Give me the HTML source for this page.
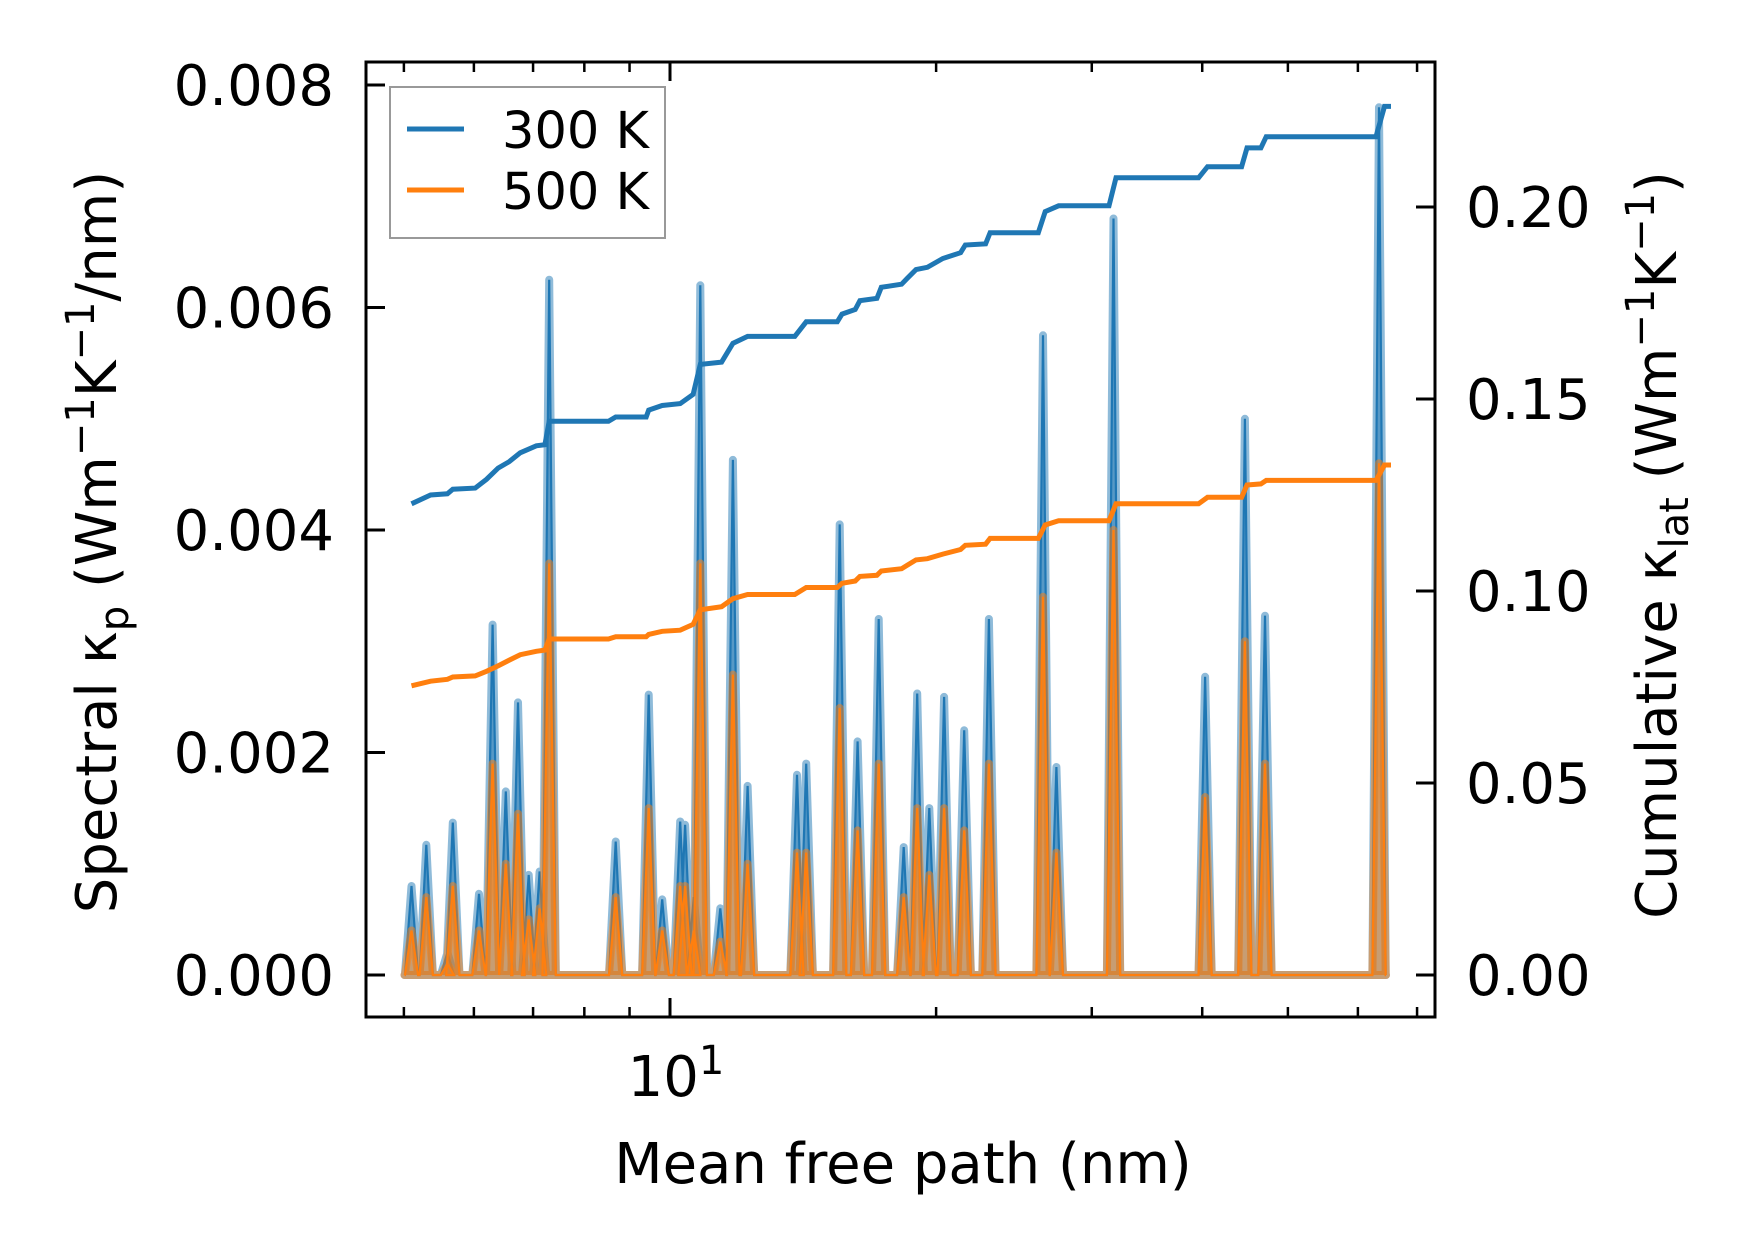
<!DOCTYPE html>
<html><head><meta charset="utf-8"><style>
html,body{margin:0;padding:0;background:#fff;}
svg{display:block;font-family:"DejaVu Sans","Liberation Sans",sans-serif;}
</style></head><body>
<svg id="chart" width="1753" height="1255" viewBox="0 0 1753 1255" xmlns="http://www.w3.org/2000/svg">
<rect width="1753" height="1255" fill="#fff"/>
<g id="plot"></g>
<g id="axes"></g>
</svg>
<script>
// spectral peaks (mean free path nm, value)
const peakMfp = [5.10,5.30,5.60,5.68,6.08,6.30,6.52,6.73,6.92,7.12,7.30,8.68,9.46,9.80,10.27,10.40,10.64,10.82,11.40,11.78,12.24,13.92,14.26,15.56,16.30,17.22,18.38,19.04,19.65,20.42,21.52,22.95,26.42,27.36,31.75,40.30,44.70,47.10,63.40];
const peak300 = [0.0008,0.00117,0.0002,0.00137,0.00073,0.00315,0.00165,0.00245,0.0009,0.00093,0.00625,0.0012,0.00252,0.00068,0.00138,0.00135,0.0007,0.0062,0.0006,0.00463,0.0017,0.0018,0.0019,0.00405,0.0021,0.0032,0.00115,0.00253,0.0015,0.0025,0.0022,0.0032,0.00575,0.00187,0.0068,0.00268,0.005,0.00323,0.0078];
const peak500 = [0.0004,0.0007,0.0001,0.0008,0.0004,0.0019,0.001,0.00145,0.0005,0.0006,0.0037,0.0007,0.0015,0.0004,0.0008,0.0008,0.0004,0.0037,0.0003,0.0027,0.001,0.0011,0.0011,0.0024,0.0013,0.0019,0.0007,0.0015,0.0009,0.0015,0.0013,0.0019,0.0034,0.0011,0.004,0.0016,0.003,0.0019,0.0046];
// cumulative
const cumMfp = [5.10,5.36,5.60,5.68,6.02,6.20,6.39,6.58,6.77,7.06,7.22,7.30,8.52,8.68,9.40,9.46,9.80,10.27,10.62,10.82,11.44,11.78,12.24,13.84,14.26,15.46,15.65,16.20,16.40,17.14,17.34,18.28,18.55,18.98,19.55,20.35,21.32,21.58,22.75,23.02,26.10,26.57,27.52,31.38,31.95,39.62,40.55,44.32,44.95,46.60,47.25,62.90,64.30,65.40];
const cum300 = [0.1227,0.1250,0.1253,0.1265,0.1268,0.1291,0.1320,0.1337,0.1360,0.1378,0.1381,0.1442,0.1442,0.1453,0.1453,0.1471,0.1483,0.1488,0.1512,0.1590,0.1596,0.1645,0.1663,0.1663,0.1701,0.1701,0.1721,0.1733,0.1756,0.1762,0.1791,0.1799,0.1814,0.1837,0.1843,0.1866,0.1881,0.1901,0.1904,0.1933,0.1933,0.1988,0.2003,0.2003,0.2076,0.2076,0.2105,0.2105,0.2154,0.2154,0.2183,0.2183,0.2262,0.2262];
const cum500 = [0.0753,0.0765,0.0770,0.0776,0.0779,0.0791,0.0805,0.0820,0.0834,0.0843,0.0846,0.0875,0.0875,0.0881,0.0881,0.0887,0.0895,0.0898,0.0913,0.0951,0.0959,0.0980,0.0991,0.0991,0.1009,0.1009,0.1020,0.1026,0.1038,0.1041,0.1052,0.1058,0.1067,0.1081,0.1084,0.1096,0.1108,0.1119,0.1122,0.1137,0.1137,0.1172,0.1183,0.1183,0.1227,0.1227,0.1244,0.1244,0.1276,0.1279,0.1288,0.1288,0.1328,0.1328];
const leftTicks = [0,0.002,0.004,0.006,0.008];
const leftTickLabels = ["0.000","0.002","0.004","0.006","0.008"];
const rightTicks = [0,0.05,0.10,0.15,0.20];
const rightTickLabels = ["0.00","0.05","0.10","0.15","0.20"];
const xMinor = [5,6,7,8,9,20,30,40,50,60,70];

const NS="http://www.w3.org/2000/svg";
const L=366,R=1435,T=62,B=1017;
function X(v){return 670+884*(Math.log10(v)-1);}
function YL(v){return 975-v/0.002*222.5;}
function YR(v){return 975-v/0.05*192;}
function mk(tag,attrs,parent){const e=document.createElementNS(NS,tag);for(const k in attrs)e.setAttribute(k,attrs[k]);parent.appendChild(e);return e;}
const plot=document.getElementById('plot'),axes=document.getElementById('axes');
const clip=mk('clipPath',{id:'clp'},mk('defs',{},plot));mk('rect',{x:L,y:T,width:R-L,height:B-T},clip);
plot.setAttribute('clip-path','url(#clp)');

function spectral(vals){
  const hw=0.0075;let pts=[[X(peakMfp[0])-7,YL(0)]];
  for(let i=0;i<peakMfp.length;i++){
    const lx=Math.log10(peakMfp[i]);
    pts.push([670+884*(lx-hw-1),YL(0)]);pts.push([X(peakMfp[i]),YL(vals[i])]);pts.push([670+884*(lx+hw-1),YL(0)]);
  }
  pts.push([X(peakMfp[peakMfp.length-1])+7,YL(0)]);
  return pts.map(p=>p[0].toFixed(1)+','+p[1].toFixed(1)).join(' ');
}
const s300=spectral(peak300),s500=spectral(peak500);
let e;
e=mk('polygon',{points:s300,fill:'#1f77b4','fill-opacity':0.5,stroke:'#1f77b4','stroke-opacity':0.5,'stroke-width':8,'stroke-linejoin':'round'},plot);


e=mk('polyline',{points:s300,fill:'none',stroke:'#1f77b4','stroke-width':2.2},plot);


e=mk('polygon',{points:s500,fill:'#ff7f0e','fill-opacity':0.5,stroke:'#ff7f0e','stroke-opacity':0.5,'stroke-width':8,'stroke-linejoin':'round'},plot);


e=mk('polyline',{points:s500,fill:'none',stroke:'#ff7f0e','stroke-width':2.2},plot);


function cum(vals){return cumMfp.map((m,i)=>X(m).toFixed(1)+','+YR(vals[i]).toFixed(1)).join(' ');}
e=mk('polyline',{points:cum(cum300),fill:'none',stroke:'#1f77b4','stroke-width':5},plot);


e=mk('polyline',{points:cum(cum500),fill:'none',stroke:'#ff7f0e','stroke-width':5},plot);



// frame
e=mk('rect',{x:L,y:T,width:R-L,height:B-T,fill:'none',stroke:'#000','stroke-width':3},axes);


leftTicks.forEach((v,i)=>{
  mk('line',{x1:L,x2:L+19,y1:YL(v),y2:YL(v),stroke:'#000','stroke-width':3},axes);
  const t=mk('text',{x:334,y:YL(v)+20,'font-size':56,'text-anchor':'end'},axes);t.textContent=leftTickLabels[i];
  
  
});
rightTicks.forEach((v,i)=>{
  mk('line',{x1:R-19,x2:R,y1:YR(v),y2:YR(v),stroke:'#000','stroke-width':3},axes);
  const t=mk('text',{x:1466,y:YR(v)+20,'font-size':56},axes);t.textContent=rightTickLabels[i];
  
  
});
xMinor.forEach(v=>{
  mk('line',{x1:X(v),x2:X(v),y1:B,y2:B-10,stroke:'#000','stroke-width':2.5},axes);
  mk('line',{x1:X(v),x2:X(v),y1:T,y2:T+10,stroke:'#000','stroke-width':2.5},axes);
});
mk('line',{x1:X(10),x2:X(10),y1:B,y2:B-19,stroke:'#000','stroke-width':3},axes);
mk('line',{x1:X(10),x2:X(10),y1:T,y2:T+19,stroke:'#000','stroke-width':3},axes);
</script>
<svg style="position:absolute;left:0;top:0" width="1753" height="1255" viewBox="0 0 1753 1255">
<text x="676" y="1096" font-size="56" text-anchor="middle">10<tspan dy="-22" font-size="40">1</tspan></text>
<text x="903" y="1183" font-size="56" text-anchor="middle">Mean free path (nm)</text>
<text transform="translate(116,542) rotate(-90)" font-size="56" text-anchor="middle">Spectral κ<tspan dy="12" font-size="40">p</tspan><tspan dy="-12"> (Wm</tspan><tspan dy="-22" font-size="40">−1</tspan><tspan dy="22">K</tspan><tspan dy="-22" font-size="40">−1</tspan><tspan dy="22">/nm)</tspan></text>
<text transform="translate(1676,545) rotate(-90)" font-size="56" text-anchor="middle">Cumulative κ<tspan dy="12" font-size="40">lat</tspan><tspan dy="-12"> (Wm</tspan><tspan dy="-22" font-size="40">−1</tspan><tspan dy="22">K</tspan><tspan dy="-22" font-size="40">−1</tspan><tspan dy="22">)</tspan></text>
<g>
<rect x="390" y="87" width="275" height="151" fill="#fff" fill-opacity="0.8" stroke="#999" stroke-width="2"/>
<line x1="407" x2="464" y1="129" y2="129" stroke="#1f77b4" stroke-width="5"/>
<text x="502" y="148" font-size="51">300 K</text>
<line x1="407" x2="464" y1="190" y2="190" stroke="#ff7f0e" stroke-width="5"/>
<text x="502" y="209" font-size="51">500 K</text>
</g>
</svg>
</body></html>
